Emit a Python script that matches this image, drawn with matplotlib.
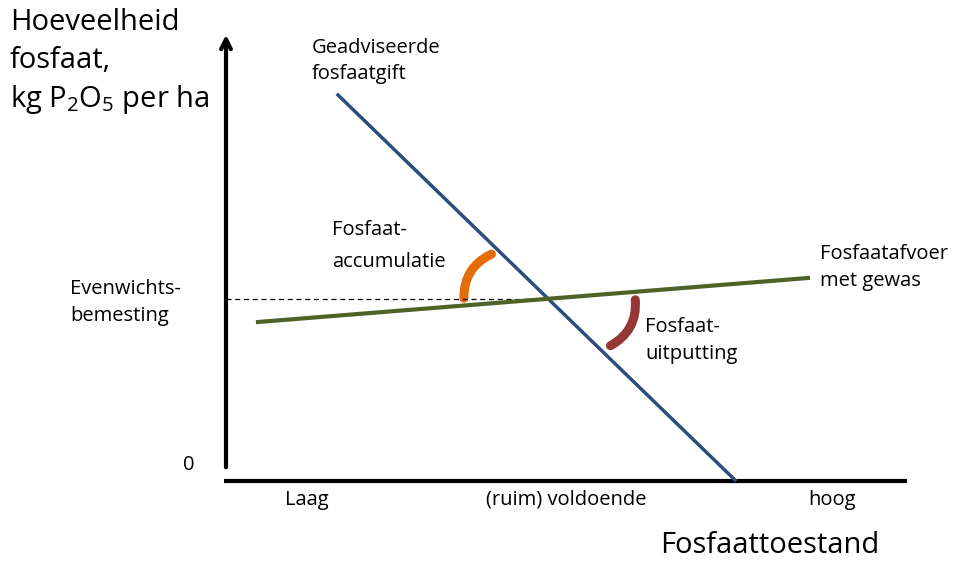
import matplotlib
matplotlib.use("Agg")
import matplotlib.pyplot as plt
from matplotlib.patches import FancyArrowPatch

plt.rcParams['font.family'] = ['Open Sans', 'DejaVu Sans']
plt.rcParams['mathtext.fontset'] = 'custom'
plt.rcParams['mathtext.rm'] = 'Open Sans'
plt.rcParams['mathtext.it'] = 'Open Sans'

# schematic positions (figure units, y downwards)
advies_x = [338, 735]
advies_y = [95, 480]
afvoer_x = [258, 808]
afvoer_y = [322, 278]
evenwicht_y = 299
evenwicht_x = [226, 548]
xas_labels = ["Laag", "(ruim) voldoende", "hoog"]
xas_pos = [307, 566, 832]

blauw = "#2c4d7e"
groen = "#4f6228"
oranje = "#e46c0a"
bruin = "#953735"

fig = plt.figure(figsize=(9.65, 5.62), dpi=100)
ax = fig.add_axes([0, 0, 1, 1])
ax.set_xlim(0, 965)
ax.set_ylim(562, 0)
ax.axis("off")

# assen
ax.annotate("", xy=(226, 32), xytext=(226, 470),
            arrowprops=dict(arrowstyle="->,head_length=0.7,head_width=0.35", lw=3, color="black"))
ax.plot([224, 907], [481, 481], color="black", lw=3, solid_capstyle="butt")

# lijnen
ax.plot(evenwicht_x, [evenwicht_y, evenwicht_y], color="black", lw=0.9, ls=(0, (4, 3)))
ax.plot(advies_x, advies_y, color=blauw, lw=2.5)
ax.plot(afvoer_x, afvoer_y, color=groen, lw=3)

# gebogen pijlen
ax.add_patch(FancyArrowPatch((464, 301), (494, 253), arrowstyle="-",
                             connectionstyle="arc3,rad=-0.35", lw=6.5, color=oranje, capstyle="round"))
ax.add_patch(FancyArrowPatch((608, 347), (635, 297), arrowstyle="-",
                             connectionstyle="arc3,rad=0.35", lw=6.5, color=bruin, capstyle="round"))

# teksten
groot = 21
ax.text(10, 22, "Hoeveelheid", fontsize=groot, va="center", ha="left")
ax.text(10, 61, "fosfaat,", fontsize=groot, va="center", ha="left")
ax.text(10, 100, r"kg P$_2$O$_5$ per ha", fontsize=groot, va="center", ha="left")

klein = 14.5
ax.text(312, 48, "Geadviseerde", fontsize=klein, va="center")
ax.text(312, 74, "fosfaatgift", fontsize=klein, va="center")
ax.text(332, 230, "Fosfaat-", fontsize=klein, va="center")
ax.text(332, 262, "accumulatie", fontsize=klein, va="center")
ax.text(70, 289, "Evenwichts-", fontsize=klein, va="center")
ax.text(70, 316, "bemesting", fontsize=klein, va="center")
ax.text(820, 254, "Fosfaatafvoer", fontsize=klein, va="center")
ax.text(820, 281, "met gewas", fontsize=klein, va="center")
ax.text(645, 327, "Fosfaat-", fontsize=klein, va="center")
ax.text(645, 354, "uitputting", fontsize=klein, va="center")
ax.text(183, 465, "0", fontsize=klein, va="center")

for lab, xp in zip(xas_labels, xas_pos):
    ax.text(xp, 500, lab, fontsize=klein, va="center", ha="center")

ax.text(770, 553, "Fosfaattoestand", fontsize=groot, va="baseline", ha="center")

fig.savefig("out.png", dpi=100)
